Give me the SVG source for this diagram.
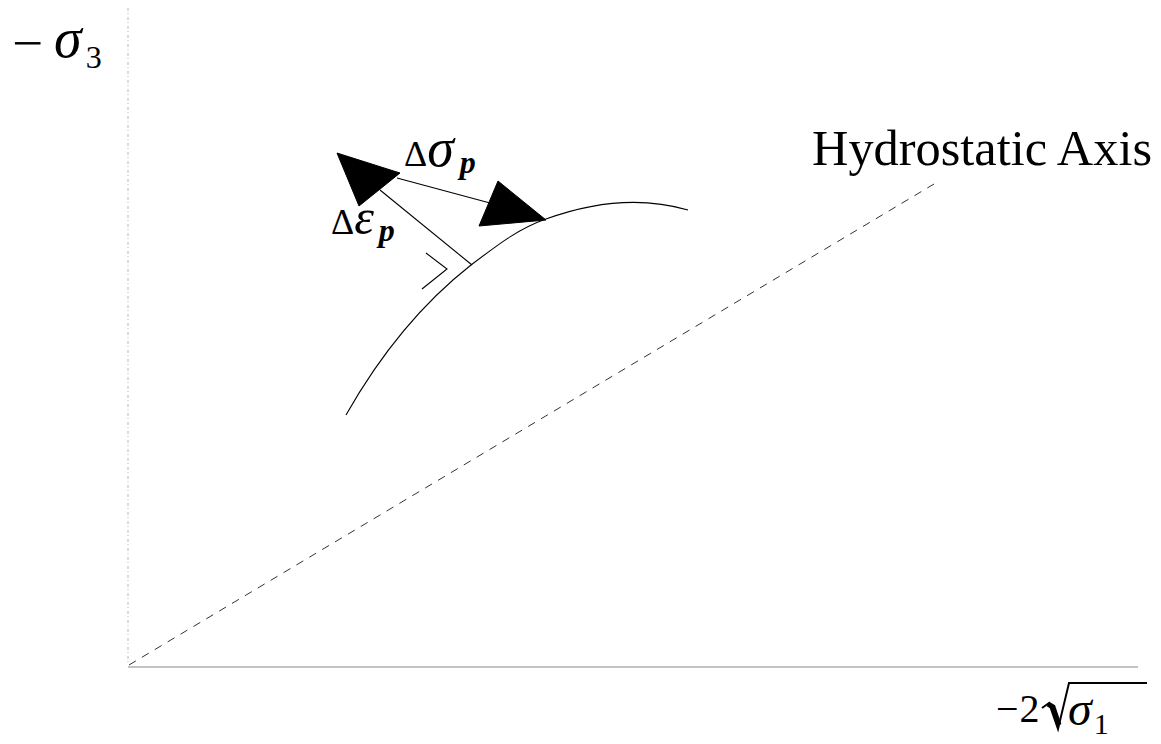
<svg xmlns="http://www.w3.org/2000/svg" width="1161" height="744" viewBox="0 0 1161 744">
<style>
text{font-family:"Liberation Serif","DejaVu Serif","Times New Roman",serif;fill:#000}
.it{font-style:italic}
.ln{stroke:#000;stroke-width:1.1;fill:none}
.head{fill:#000;stroke:#000;stroke-width:1}
</style>
<rect width="1161" height="744" fill="#fff"/>
<g id="axes">
<line x1="128" y1="8" x2="128" y2="665" stroke="#bbb" stroke-width="1" stroke-dasharray="3 2 1 3"/>
<line x1="128" y1="667" x2="1138" y2="667" stroke="#888" stroke-width="1.2"/>
</g>
<g id="hydrostatic-axis">
<line x1="129" y1="665" x2="934" y2="184" stroke="#333" stroke-width="1" stroke-dasharray="8 7"/>
<text x="812" y="165" font-size="50" textLength="340" lengthAdjust="spacingAndGlyphs">Hydrostatic Axis</text>
</g>
<g id="yield-surface">
<path class="ln" d="M346,415 C380,355 420,305 471,265 C500,243 520,228 546,219 C590,203 640,196 688,210"/>
</g>
<g id="connectors">
<line class="ln" x1="472" y1="265" x2="380" y2="190"/>
<polygon class="head" points="337,153 400,173 359,206"/>
<line class="ln" x1="397" y1="178" x2="490" y2="203"/>
<polygon class="head" points="498,181 546,220 479,226"/>
<polyline class="ln" points="426,253 447,269 422,289"/>
</g>
<g id="labels">
<text transform="translate(12,60) scale(1.1,1)" x="0" y="0" font-size="50">−</text>
<text x="54" y="57" font-size="56"><tspan class="it">σ</tspan><tspan font-size="32" dx="4" dy="11">3</tspan></text>
<text x="404" y="166" font-size="36">Δ<tspan class="it" font-size="54">σ</tspan><tspan class="it" font-weight="bold" font-size="32" dx="6" dy="7">p</tspan></text>
<text x="331" y="234" font-size="36">Δ<tspan class="it" font-size="50">ε</tspan><tspan class="it" font-weight="bold" font-size="32" dx="5" dy="7">p</tspan></text>
<text x="996" y="722" font-size="40">−<tspan dx="1">2</tspan></text>
<path d="M1042,708 L1049,703 L1058,729 L1069,683 L1147,683" fill="none" stroke="#000" stroke-width="2"/>
<path d="M1048,704 L1053,707 L1059,725" fill="none" stroke="#000" stroke-width="5"/>
<text x="1068" y="725" font-size="48"><tspan class="it">σ</tspan><tspan font-size="30" dx="2" dy="9">1</tspan></text>
</g>
</svg>
